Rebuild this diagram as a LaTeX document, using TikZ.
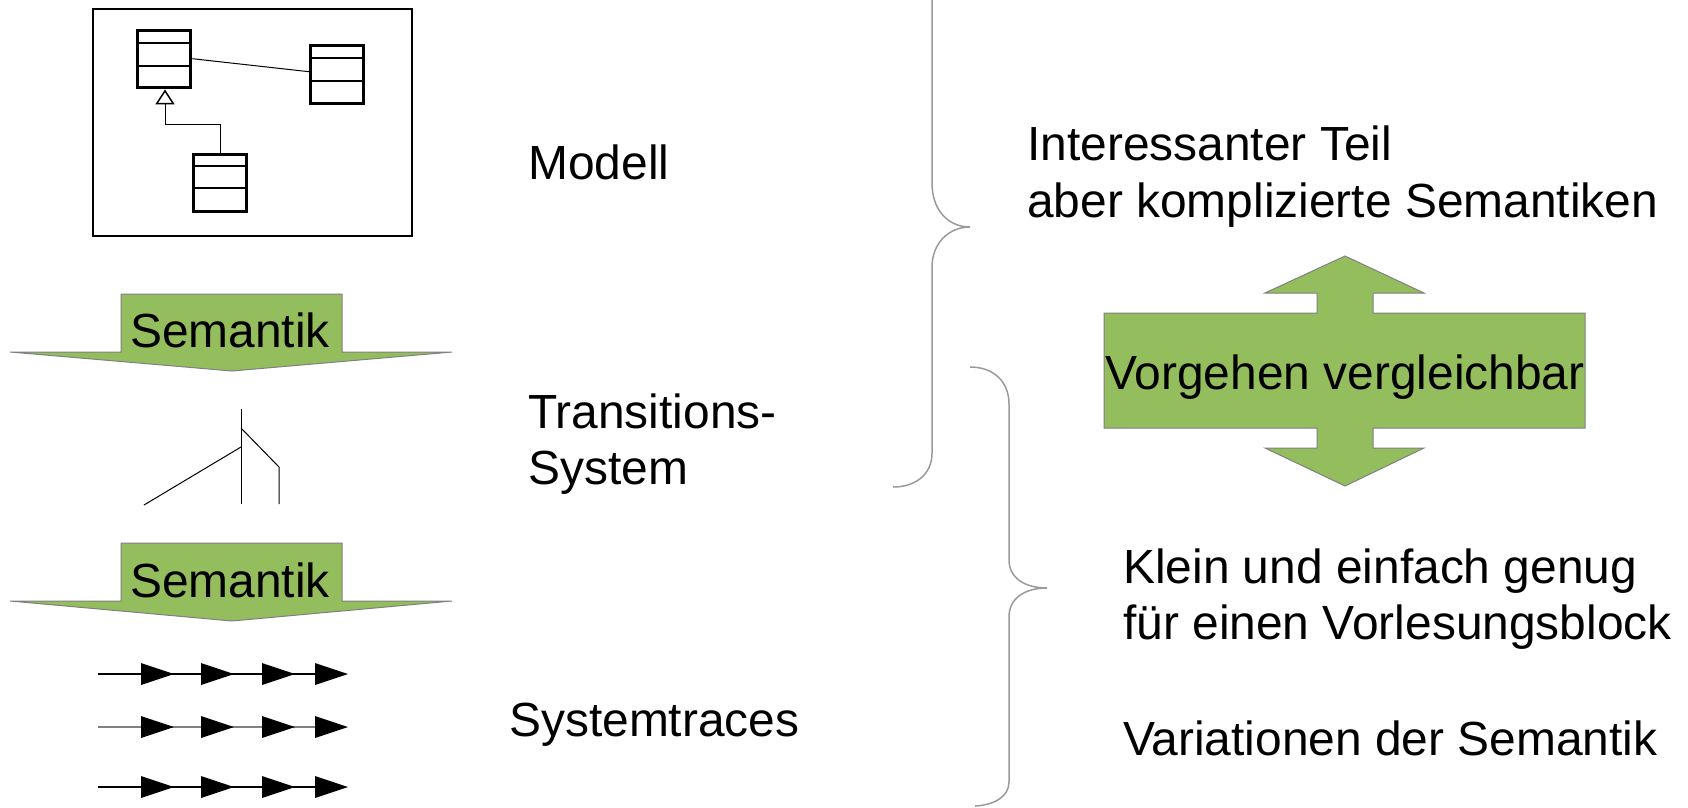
\documentclass[tikz,border=0pt]{standalone}
\usepackage{fontspec}
\setmainfont{Liberation Sans}
\usetikzlibrary{arrows.meta,calc}
\definecolor{arrowgreen}{HTML}{94BD5E}
\definecolor{arrowgray}{HTML}{808080}
\definecolor{bracegray}{HTML}{9A9A9A}
\begin{document}
\begin{tikzpicture}[x=1pt,y=-1pt,
  lbl/.style={anchor=base west,inner sep=0pt,font=\fontsize{47.9}{56}\selectfont},
  ctext/.style={anchor=base,inner sep=0pt,font=\fontsize{47.9}{56}\selectfont},
  greenshape/.style={fill=arrowgreen,draw=arrowgray,line width=1pt,line join=miter},
  bracestyle/.style={draw=bracegray,line width=1.5pt},
  umlclass/.style={draw,line width=3.4pt,minimum width=53pt,minimum height=57pt,inner sep=0pt,anchor=north west},
  divider/.style={line width=1.6pt},
  thinline/.style={line width=1pt},
  tracehead/.style={fill=black,draw=none}
]
\useasboundingbox (0,0) rectangle (1688,807);
\clip (0,0) rectangle (1688,807);

% ---------- UML model ----------
\node[draw,line width=2pt,minimum width=319pt,minimum height=227pt,inner sep=0pt,anchor=north west] (frame) at (92,8) {};
\node[umlclass] (c1) at (136,29) {};
\node[umlclass,minimum height=58pt] (c2) at (309,44) {};
\node[umlclass] (c3) at (192,153) {};
\foreach \c/\a/\b in {c1/14/37,c2/14/37,c3/13/35}{
  \draw[divider] ($(\c.north west)+(0,\a)$) -- ($(\c.north east)+(0,\a)$);
  \draw[divider] ($(\c.north west)+(0,\b)$) -- ($(\c.north east)+(0,\b)$);
}
\draw[thinline] ($(c1.east)+(0,-0.5)$) -- ($(c2.west)+(0,-3)$);
\coordinate (inh) at (165,124);
\draw[thinline,-{Triangle[open,length=15pt,width=19pt,line width=1.5pt]}] (c3.north) |- (inh) -- (inh |- c1.south);

% ---------- Semantik arrows ----------
\draw[greenshape] (121,294) -- (342,294) -- (342,352) -- (452,352) -- (232,371) -- (10,352) -- (121,352) -- cycle;
\node[ctext] (sem1) at (230,347) {Semantik};
\draw[greenshape] (121,543) -- (342,543) -- (342,601) -- (452,601) -- (232,621) -- (10,601) -- (121,601) -- cycle;
\node[ctext] (sem2) at (230,597) {Semantik};

% ---------- Transition system ----------
\coordinate (t0) at (241,409);
\coordinate (t1) at (241,428);
\coordinate (t2) at (241,447);
\coordinate (tend) at (241,504);
\coordinate (r1) at (279,467);
\coordinate (r2) at (279,504);
\coordinate (l1) at (144,505);
\draw[thinline] (t0) -- (tend);
\draw[thinline] (t1) -- (r1) -- (r2);
\draw[thinline] (t2) -- (l1);

% ---------- Traces ----------
\foreach \y/\col in {674/black,727/gray,787/black}{
  \coordinate (s\y) at (98,\y);
  \coordinate (e\y) at (315,\y);
  \draw[line width=1.2pt,draw=\col] (s\y) -- (e\y);
  \foreach \x in {141,201,262,315}{
    \fill[tracehead] (\x,\y-11) -- (\x+33,\y) -- (\x,\y+11) -- cycle;
  }
}

% ---------- Left labels ----------
\node[lbl] (modell) at (528,179) {Modell};
\node[lbl] (trans) at (528,428) {Transitions-};
\node[lbl] (system) at (528,484) {System};
\node[lbl] (traces) at (509,736) {Systemtraces};

% ---------- Braces ----------
\draw[bracestyle] (893,-34) .. controls (915,-34) and (932,-22) .. (932,0)
  -- (932,183) .. controls (932,210) and (948,227) .. (970,227)
  .. controls (948,227) and (932,244) .. (932,267)
  -- (932,453) .. controls (932,475) and (915,487) .. (893,487);
\draw[bracestyle] (970,367) .. controls (994,367) and (1009,382) .. (1009,404)
  -- (1009,560) .. controls (1009,578) and (1025,588) .. (1047,588)
  .. controls (1025,588) and (1009,598) .. (1009,617)
  -- (1009,782) .. controls (1009,796) and (995,805) .. (975,806);

% ---------- Right side ----------
\node[lbl] (int1) at (1027,160) {Interessanter Teil};
\node[lbl] (int2) at (1027,217) {aber komplizierte Semantiken};

\draw[greenshape] (1345,256) -- (1424,293) -- (1373,293) -- (1373,313) -- (1585,313)
  -- (1585,428) -- (1373,428) -- (1373,448) -- (1424,448) -- (1345,486)
  -- (1265,448) -- (1317,448) -- (1317,428) -- (1104,428) -- (1104,313)
  -- (1317,313) -- (1317,293) -- (1265,293) -- cycle;
\node[ctext] (vorg) at (1345,389) {Vorgehen vergleichbar};

\node[lbl] (klein) at (1123,583) {Klein und einfach genug};
\node[lbl] (fuer) at (1123,639) {für einen Vorlesungsblock};
\node[lbl] (var) at (1123,755) {Variationen der Semantik};
\end{tikzpicture}
\end{document}
